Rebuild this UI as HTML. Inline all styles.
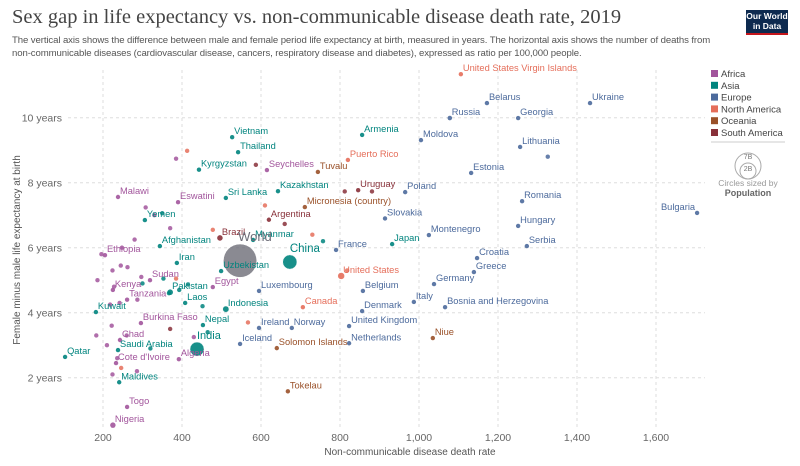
<!DOCTYPE html>
<html><head><meta charset="utf-8">
<style>
body{margin:0;background:#fff;width:800px;height:466px;overflow:hidden;font-family:"Liberation Sans",sans-serif}
#title{position:absolute;left:12px;top:6px;font:20.5px "Liberation Serif",serif;color:#444;margin:0;white-space:nowrap}
#sub{position:absolute;left:12px;top:34px;width:700px;font-size:9.6px;line-height:13px;color:#555;letter-spacing:-0.1px}
#logo{position:absolute;left:746px;top:10px;width:42px;height:25px;background:#0d2a4f;border-bottom:2px solid #c4161c;color:#fff;font-size:8.5px;line-height:9.5px;text-align:center;padding-top:2px;box-sizing:border-box;font-weight:bold}
svg{position:absolute;left:0;top:0}
</style></head><body>
<div id="title">Sex gap in life expectancy vs. non-communicable disease death rate, 2019</div>
<div id="sub">The vertical axis shows the difference between male and female period life expectancy at birth, measured in years. The horizontal axis shows the number of deaths from non-communicable diseases (cardiovascular disease, cancers, respiratory disease and diabetes), expressed as ratio per 100,000 people.</div>
<div id="logo">Our World<br>in Data</div>
<svg id="chart" width="800" height="466"></svg>
<script>
const names=["United States Virgin Islands","Belarus","Ukraine","Russia","Georgia","Vietnam","Armenia","Moldova","Lithuania","Thailand","Puerto Rico","Tuvalu","Seychelles","Kyrgyzstan","Estonia","Kazakhstan","Uruguay","Poland","Malawi","Sri Lanka","Eswatini","Romania","Bulgaria","Micronesia (country)","Yemen","Slovakia","Argentina","Hungary","Montenegro","Brazil","Myanmar","Afghanistan","Japan","Serbia","France","Ethiopia","Croatia","China","Iran","World","Uzbekistan","United States","Greece","Sudan","Egypt","Germany","Luxembourg","Kenya","Pakistan","Belgium","Italy","Tanzania","Indonesia","Laos","Canada","Kuwait","Denmark","Bosnia and Herzegovina","Burkina Faso","Nepal","Ireland","Norway","United Kingdom","Chad","Iceland","India","Netherlands","Niue","Saudi Arabia","Solomon Islands","Qatar","Algeria","Cote d'Ivoire","Maldives","Tokelau","Togo","Nigeria"];
const regions=["NA","EU","EU","EU","EU","AS","AS","EU","EU","AS","NA","OC","AF","AS","EU","AS","SA","EU","AF","AS","AF","EU","EU","OC","AS","EU","SA","EU","EU","SA","AS","AS","AS","EU","EU","AF","EU","AS","AS","W","AS","NA","EU","AF","AF","EU","EU","AF","AS","EU","EU","AF","AS","AS","NA","AS","EU","EU","AF","AS","EU","EU","EU","AF","EU","AS","EU","OC","AS","OC","AS","AF","AF","AS","OC","AF","AF"];
const ncdRate=[1106,1172,1433,1078,1251,527,856,1005,1256,542,820,744,615,443,1132,643,846,965,238,511,390,1261,1704,711,306,914,620,1251,1025,496,580,344,932,1273,790,205,1147,673,387,547,499,803,1139,319,478,1038,595,225,370,858,987,261,511,408,706,182,856,1066,296,453,595,678,823,243,547,438,823,1035,238,640,104,392,233,241,668,261,225];
const sexGap=[11.34,10.45,10.45,9.99,9.99,9.4,9.47,9.31,9.1,8.94,8.7,8.33,8.39,8.4,8.3,7.74,7.77,7.71,7.56,7.53,7.4,7.43,7.07,7.25,6.85,6.9,6.86,6.67,6.39,6.3,6.24,6.05,6.11,6.05,5.93,5.77,5.68,5.56,5.53,5.6,5.28,5.13,5.25,5.0,4.79,4.88,4.67,4.7,4.63,4.67,4.33,4.4,4.11,4.3,4.17,4.02,4.05,4.17,3.68,3.62,3.53,3.53,3.59,3.16,3.04,2.88,3.06,3.22,2.85,2.91,2.64,2.57,2.45,1.86,1.58,1.1,0.54];
const population=[0.1,9,44,145,4,97,3,3,3,70,3,0.01,0.1,6.5,1.3,19,3.5,38,19,21,1.2,19,7,0.1,30,5.5,45,9.7,0.6,212,54,38,126,7,65,115,4,1410,84,7700,34,330,10.7,44,100,83,0.6,53,220,11.5,60,60,272,7.2,38,4.3,5.8,3.3,21,29,5,5.4,67,16,0.36,1380,17,0.002,35,0.7,2.8,43,26,0.5,0.001,8,206];
// unlabeled countries
const uRegions=["NA","AF","SA","AF","SA","SA","AS","AF","AF","NA","SA","AS","NA","AF","AF","AS","AF","AF","NA","AF","AF","AS","AS","AF","AF","AS","NA","AF","AF","AS","AF","AF","NA","SA","AS","AF","AF","AF","AS","AF","NA","EU","NA","AF","AF","AF","AS","AF"];
const uRate=[413,385,587,308,812,881,350,370,330,478,660,757,730,248,262,353,224,228,385,297,245,367,300,287,242,393,567,210,260,452,183,236,246,370,320,224,286,430,415,280,818,1326,610,196,186,222,465,218];
const uGap=[8.98,8.74,8.55,7.24,7.73,7.73,7.06,6.6,7.0,6.55,6.73,6.2,6.4,6.0,5.4,5.05,5.3,4.8,5.05,5.1,5.45,4.6,4.9,4.4,4.3,4.7,3.7,3.0,3.3,4.2,3.3,2.6,2.3,3.5,2.9,2.1,2.2,3.25,4.87,6.25,5.3,8.8,7.3,5.8,5.0,3.6,3.4,4.25];

const svg=document.getElementById('chart');
const NS='http://www.w3.org/2000/svg';
const colors={AF:'#a2559c',AS:'#00847e',EU:'#4c6a9c',NA:'#e56e5a',OC:'#9a5129',SA:'#883039',W:'#6d6d78'};
const xS=v=>103+(v-200)*0.395;
const yS=v=>312.7-(v-4)*32.5;
const rS=p=>Math.max(2.2,Math.sqrt(p)*0.19);
function mk(tag,attrs,parent){const e=document.createElementNS(NS,tag);for(const k in attrs)e.setAttribute(k,attrs[k]);(parent||svg).appendChild(e);return e;}
const xTicks=[200,400,600,800,1000,1200,1400,1600];
const yTicks=[2,4,6,8,10];
yTicks.forEach(t=>{
  const l=mk('line',{x1:68,x2:705,y1:yS(t),y2:yS(t),stroke:'#ddd','stroke-dasharray':'3,3'});
  
  
  const tx=mk('text',{x:62,y:yS(t)+4,'text-anchor':'end','font-size':'10.5',fill:'#666'});
  tx.textContent=t+' years';
  
  
});
xTicks.forEach(t=>{
  const l=mk('line',{x1:xS(t),x2:xS(t),y1:70,y2:428,stroke:'#ddd','stroke-dasharray':'3,3'});
  
  
  const tx=mk('text',{x:xS(t),y:441,'text-anchor':'middle','font-size':'10.5',fill:'#666'});
  tx.textContent=t.toLocaleString('en-US');
  
  
});
const xt=mk('text',{x:410,y:455,'text-anchor':'middle','font-size':'10',fill:'#555'});
xt.textContent='Non-communicable disease death rate';


const yt=mk('text',{x:0,y:0,'text-anchor':'middle','font-size':'10',fill:'#555',transform:'translate(20,250) rotate(-90)'});
yt.textContent='Female minus male life expectancy at birth';



uRate.forEach((v,i)=>{
  const c=mk('circle',{cx:xS(v),cy:yS(uGap[i]),r:2.2,fill:colors[uRegions[i]],opacity:0.85});
  
  
});
const order=names.map((n,i)=>i).sort((a,b)=>population[b]-population[a]);
order.forEach(i=>{
  const cx=xS(ncdRate[i]),cy=yS(sexGap[i]),r=rS(population[i]);
  const c=mk('circle',{cx:cx,cy:cy,r:r,fill:colors[regions[i]],opacity:regions[i]==='W'?0.8:0.9,stroke:r>3?'#fff':'none','stroke-width':0.5});
  
  
});
names.forEach((n,i)=>{
  const cx=xS(ncdRate[i]),cy=yS(sexGap[i]),r=rS(population[i]);
  let x=cx+2,y=cy-3,anchor='start',fs=9.3;
  if(n==='Bulgaria'){x=cx-2;anchor='end';}
  if(n==='World'||n==='India'||n==='China'){x=cx-(n==='World'?2:0);y=cy-r-3;fs=n==='World'?13:n==='China'?11.5:11;}
  const t=mk('text',{x:x,y:y,'text-anchor':anchor,'font-size':fs,fill:colors[regions[i]]});
  t.textContent=n;
  
  
});
// legend
const leg=[['Africa','AF'],['Asia','AS'],['Europe','EU'],['North America','NA'],['Oceania','OC'],['South America','SA']];
leg.forEach((d,i)=>{
  const y=74+i*11.8;
  const r=mk('rect',{x:711,y:y-4,width:7,height:7,fill:colors[d[1]]});
  
  
  const t=mk('text',{x:721,y:y+3,'font-size':'9.5',fill:'#444'});
  t.textContent=d[0];
  
  
});
const sep=mk('line',{x1:711,x2:785,y1:142,y2:142,stroke:'#ccc'});


const c1=mk('circle',{cx:748,cy:166,r:13,fill:'none',stroke:'#aaa'});


const c2=mk('circle',{cx:748,cy:171,r:8,fill:'none',stroke:'#aaa'});


[['7B',157],['2B',169]].forEach(d=>{const t=mk('text',{x:748,y:d[1]+2,'text-anchor':'middle','font-size':'7',fill:'#777'});t.textContent=d[0];

});
const s1=mk('text',{x:748,y:186,'text-anchor':'middle','font-size':'8.5',fill:'#999'});s1.textContent='Circles sized by';


const s2=mk('text',{x:748,y:196,'text-anchor':'middle','font-size':'9','font-weight':'bold',fill:'#666'});s2.textContent='Population';


</script>
</body></html>
